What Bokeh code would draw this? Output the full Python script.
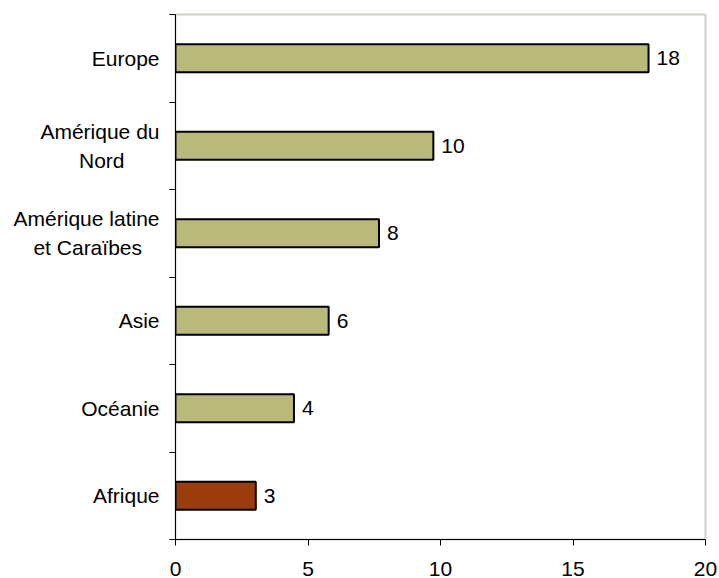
from bokeh.plotting import figure
from bokeh.models import (ColumnDataSource, Range1d, FactorRange, LinearAxis,
                          CategoricalAxis, FixedTicker, LabelSet)
from bokeh.core.properties import value
from bokeh.embed import file_html
from bokeh.resources import INLINE

# Regions (top to bottom) and their values
regions = ["Europe", "Amérique du\nNord", "Amérique latine\net Caraïbes",
           "Asie", "Océanie", "Afrique"]
values = [17.85, 9.73, 7.68, 5.78, 4.47, 3.03]
x_ticks = [0, 5, 10, 15, 20]
highlight = "Afrique"

FONT = "Liberation Sans"
FONT_SIZE = "21px"
OLIVE = "#b8b97b"
RUST = "#9b3c0d"

# the axis right-aligns every line of a name; pad the shorter second line
# with no-break spaces so the two lines sit centred over each other
NBSP = "\u00a0"
second_line_pad = {"Amérique du\nNord": 6, "Amérique latine\net Caraïbes": 3}
factor_names = [r + NBSP * second_line_pad.get(r, 0) for r in regions]

colors = [RUST if r == highlight else OLIVE for r in regions]

src = ColumnDataSource(dict(
    region=factor_names,
    value=values,
    label=[f"{v:.0f}" for v in values],
    color=colors,
))

p = figure(width=719, height=578,
           x_range=Range1d(0, 20),
           y_range=FactorRange(factors=list(reversed(factor_names))),
           x_axis_type=None, y_axis_type=None,
           output_backend="svg", toolbar_location=None,
           min_border_left=175, min_border_right=14,
           min_border_top=14, min_border_bottom=0)
p.background_fill_color = "white"
p.border_fill_color = "white"
p.outline_line_color = "#d4d0c8"
p.outline_line_width = 2

p.hbar(y="region", left=0, right="value", height=0.32, source=src,
       fill_color="color", line_color="black", line_width=2)

# bottom value axis
xaxis = LinearAxis(ticker=FixedTicker(ticks=x_ticks))
xaxis.axis_line_color = "black"
xaxis.major_tick_line_color = "black"
xaxis.major_tick_in = 0
xaxis.major_tick_out = 6
xaxis.minor_tick_line_color = None
xaxis.major_label_standoff = 16
xaxis.major_label_text_font = FONT
xaxis.major_label_text_font_size = FONT_SIZE
xaxis.major_label_text_color = "black"
p.add_layout(xaxis, "below")

# left axis line with ticks on category boundaries (each factor spans one unit)
n = len(regions)
yaxis = LinearAxis(ticker=FixedTicker(ticks=list(range(n + 1))))
yaxis.axis_line_color = "black"
yaxis.major_tick_line_color = "black"
yaxis.major_tick_in = 0
yaxis.major_tick_out = 6
yaxis.minor_tick_line_color = None
yaxis.major_label_standoff = 0
yaxis.major_label_overrides = {i: "" for i in range(n + 1)}
p.add_layout(yaxis, "left")

# region names, next to the boundary-tick axis
names = CategoricalAxis()
names.axis_line_color = None
names.major_tick_line_color = None
names.minor_tick_line_color = None
names.major_tick_in = 0
names.major_tick_out = 0
names.major_label_standoff = 10
names.major_label_text_font = FONT
names.major_label_text_font_size = FONT_SIZE
names.major_label_text_color = "black"
names.major_label_text_line_height = 1.25
p.add_layout(names, "left")

# value labels at the end of each bar
p.add_layout(LabelSet(x="value", y="region", text="label", source=src,
                      x_offset=8, text_align="left", text_baseline="middle",
                      text_font=value(FONT), text_font_size=value(FONT_SIZE),
                      text_color="black"))

open("out.html", "w").write(file_html(p, INLINE))
